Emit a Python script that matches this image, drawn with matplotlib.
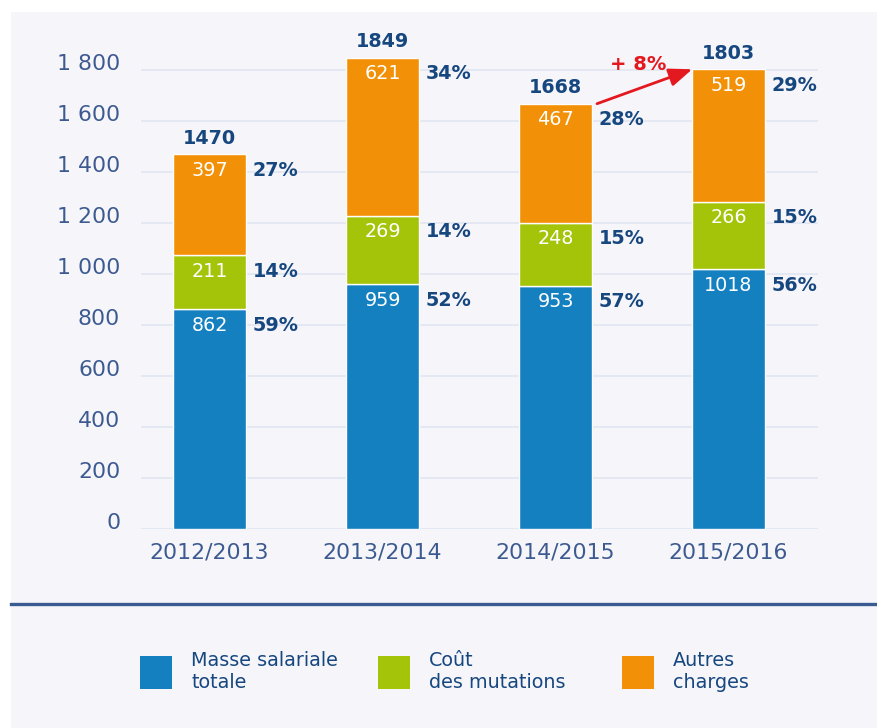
import matplotlib
matplotlib.use("Agg")
import matplotlib.pyplot as plt
from matplotlib.patches import Rectangle, Patch
from matplotlib.lines import Line2D
from matplotlib.transforms import ScaledTranslation

# données
annees = ["2012/2013", "2013/2014", "2014/2015", "2015/2016"]
masse_salariale = [862, 959, 953, 1018]
cout_mutations = [211, 269, 248, 266]
autres_charges = [397, 621, 467, 519]
totaux = [1470, 1849, 1668, 1803]
pct_masse = ["59%", "52%", "57%", "56%"]
pct_mutations = ["14%", "14%", "15%", "15%"]
pct_autres = ["27%", "34%", "28%", "29%"]
evolution = "+ 8%"
yticks = [0, 200, 400, 600, 800, 1000, 1200, 1400, 1600, 1800]
legende = ["Masse salariale\ntotale", "Coût\ndes mutations", "Autres\ncharges"]

bleu = "#1580c0"
vert = "#a3c409"
orange = "#f29107"
texte = "#17477f"
axe_txt = "#3c5a90"
fond = "#f5f5fa"

W, H = 878, 728
fig = plt.figure(figsize=(W / 100, H / 100), dpi=100)
fig.patch.set_facecolor("white")

# panneau de fond
fig.patches.append(Rectangle((11 / W, 0), 1, 1 - 12 / H, transform=fig.transFigure,
                             facecolor=fond, edgecolor="none", zorder=-10))
# ligne de séparation
fig.lines.append(Line2D([11 / W, 1], [1 - 604 / H, 1 - 604 / H], transform=fig.transFigure,
                        color="#3a5a92", linewidth=2.4))

ax = fig.add_axes([141 / W, (H - 529) / H, (818 - 141) / W, (529 - 30) / H])
ax.set_facecolor("none")

x = range(len(annees))
larg = 0.42
ax.bar(x, masse_salariale, width=larg, color=bleu, edgecolor="white", linewidth=1, zorder=3)
bas2 = masse_salariale
ax.bar(x, cout_mutations, width=larg, bottom=bas2, color=vert, edgecolor="white", linewidth=1, zorder=3)
bas3 = [a + b for a, b in zip(masse_salariale, cout_mutations)]
ax.bar(x, autres_charges, width=larg, bottom=bas3, color=orange, edgecolor="white", linewidth=1, zorder=3)

ax.set_xlim(-0.396, 3.517)
ax.set_ylim(0, 1957)

ax.set_yticks(yticks)
ax.set_yticklabels([f"{v:,}".replace(",", " ") for v in yticks])
ax.set_xticks(list(x))
ax.set_xticklabels(annees)
ax.tick_params(axis="both", length=0, labelsize=15.8, labelcolor=axe_txt)
ax.tick_params(axis="y", pad=15)
ax.tick_params(axis="x", pad=9.5)
for lab in ax.get_yticklabels():
    lab.set_transform(lab.get_transform() + ScaledTranslation(0, 0.08, fig.dpi_scale_trans))

ax.grid(axis="y", color="#e1e6f1", linewidth=1.2, zorder=0)
for s in ax.spines.values():
    s.set_visible(False)

# étiquettes
segments = [
    (masse_salariale, [0] * 4, pct_masse),
    (cout_mutations, bas2, pct_mutations),
    (autres_charges, bas3, pct_autres),
]
for vals, bas, pcts in segments:
    for i, (v, b, p) in enumerate(zip(vals, bas, pcts)):
        haut = b + v
        ax.annotate(str(v), (i, haut), xytext=(0, -11.5), textcoords="offset points",
                    ha="center", va="center", color="white", fontsize=13.8, zorder=5)
        ax.annotate(p, (i + larg / 2, haut), xytext=(5, -11.5), textcoords="offset points",
                    ha="left", va="center", color=texte, fontsize=13.8, fontweight="semibold", zorder=5)

for i, t in enumerate(totaux):
    ax.annotate(str(t), (i, t), xytext=(0, 11.5), textcoords="offset points",
                ha="center", va="center", color=texte, fontsize=13.8, fontweight="semibold")

# flèche d'évolution
ax.annotate("", xy=(3 - larg / 2, totaux[3]), xytext=(2 + larg / 2 + 0.03, totaux[2]),
            arrowprops=dict(arrowstyle="-|>,head_length=1.4,head_width=0.55",
                            mutation_scale=10, color="#e3191f", lw=2, shrinkA=0, shrinkB=0))
ax.annotate(evolution, (2.5, (totaux[2] + totaux[3]) / 2), xytext=(-3, 16), textcoords="offset points",
            ha="center", va="center", color="#e3191f", fontsize=14, fontweight="bold")

# légende : une entrée par position
couleurs = [bleu, vert, orange]
pos_x = [140, 378, 622]
for c, lab, px in zip(couleurs, legende, pos_x):
    fig.legend([Patch(facecolor=c, edgecolor="none")], [lab], loc="center left",
               bbox_to_anchor=(px / W, 1 - 671 / H), frameon=False, fontsize=13.8,
               labelcolor=texte, handlelength=1.67, handleheight=2.28, handletextpad=1.0,
               borderpad=0, borderaxespad=0, labelspacing=0.2)

fig.savefig("out.png", dpi=100, facecolor=fig.get_facecolor())
